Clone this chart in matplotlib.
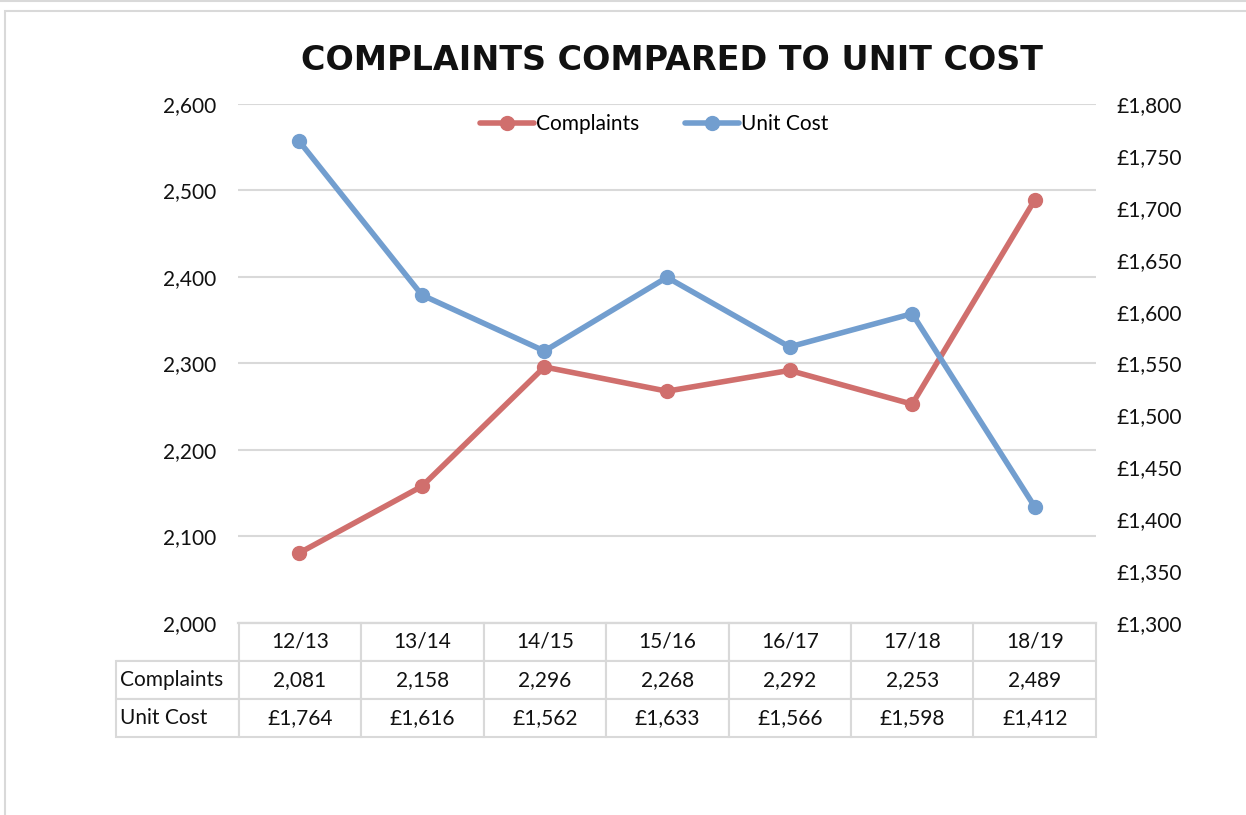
import matplotlib.pyplot as plt
from matplotlib.patches import Rectangle
from matplotlib.ticker import FuncFormatter

years = ['12/13', '13/14', '14/15', '15/16', '16/17', '17/18', '18/19']
complaints = [2081, 2158, 2296, 2268, 2292, 2253, 2489]
unit_cost = [1764, 1616, 1562, 1633, 1566, 1598, 1412]

red = '#D06F6D'
blue = '#729ECF'
grid_col = '#D9D9D9'
txt = '#111111'
fs = 15

plt.rcParams['font.family'] = ['Lato', 'DejaVu Sans']

fig = plt.figure(figsize=(12.46, 8.15), dpi=100)
fig.patches.append(Rectangle((5 / 1246, -0.1), 1.2, 1 - 11 / 815 + 0.1,
                             transform=fig.transFigure, fill=False,
                             edgecolor='#D9D9D9', lw=1.5))
fig.add_artist(plt.Line2D([0, 1], [1 - 1 / 815, 1 - 1 / 815],
                          transform=fig.transFigure, color='#D9D9D9', lw=1.5))

ax = fig.add_axes([238 / 1246, 1 - 623 / 815, 858 / 1246, 519 / 815])
ax2 = ax.twinx()

x = range(len(years))
ax.plot(x, complaints, color=red, lw=4, marker='o', ms=10,
        label='Complaints', solid_capstyle='round', zorder=3)
ax2.plot(x, unit_cost, color=blue, lw=4, marker='o', ms=10,
         label='Unit Cost', solid_capstyle='round', zorder=3)

ax.set_xlim(-0.5, len(years) - 0.5)
ax.set_ylim(2000, 2600)
ax.set_yticks(range(2000, 2601, 100))
ax2.set_ylim(1300, 1800)
ax2.set_yticks(range(1300, 1801, 50))
ax.yaxis.set_major_formatter(FuncFormatter(lambda v, p: f'{v:,.0f}'))
ax2.yaxis.set_major_formatter(FuncFormatter(lambda v, p: f'£{v:,.0f}'))

ax.grid(axis='y', color=grid_col, lw=1.5)
ax.set_axisbelow(True)
for a in (ax, ax2):
    for s in ['top', 'left', 'right']:
        a.spines[s].set_visible(False)
    a.spines['bottom'].set_color(grid_col)
    a.spines['bottom'].set_linewidth(1.5)
    a.tick_params(axis='both', length=0, labelsize=fs, labelcolor=txt)
ax.set_xticks([])
ax.tick_params(axis='y', pad=16)
ax2.tick_params(axis='y', pad=15)

rows = [[''] + years,
        ['Complaints'] + [f'{v:,}' for v in complaints],
        ['Unit Cost'] + [f'£{v:,}' for v in unit_cost]]
tbl = ax.table(cellText=rows, cellLoc='center',
               bbox=[-122 / 858, -114 / 519, 1 + 122 / 858, 114 / 519])
tbl.auto_set_font_size(False)
for (r, c), cell in tbl.get_celld().items():
    cell.set_edgecolor(grid_col)
    cell.set_linewidth(1.5)
    cell.get_text().set_fontsize(fs)
    cell.get_text().set_color(txt)
    if c == 0:
        cell.get_text().set_ha('left')
        cell.PAD = 0.03
        if r == 0:
            cell.visible_edges = 'B'

h1, l1 = ax.get_legend_handles_labels()
h2, l2 = ax2.get_legend_handles_labels()
ax.legend(h1 + h2, l1 + l2, loc='upper center', ncol=2, frameon=False,
          fontsize=fs, bbox_to_anchor=(0.485, 1.0), handlelength=2.6,
          handletextpad=0.1, columnspacing=2.2, borderaxespad=0.1)

fig.text(672 / 1246, 1 - 60 / 815, 'COMPLAINTS COMPARED TO UNIT COST',
         ha='center', va='center', fontsize=24, fontweight='bold',
         family='DejaVu Sans', color=txt)

fig.savefig('out.png', dpi=100)
